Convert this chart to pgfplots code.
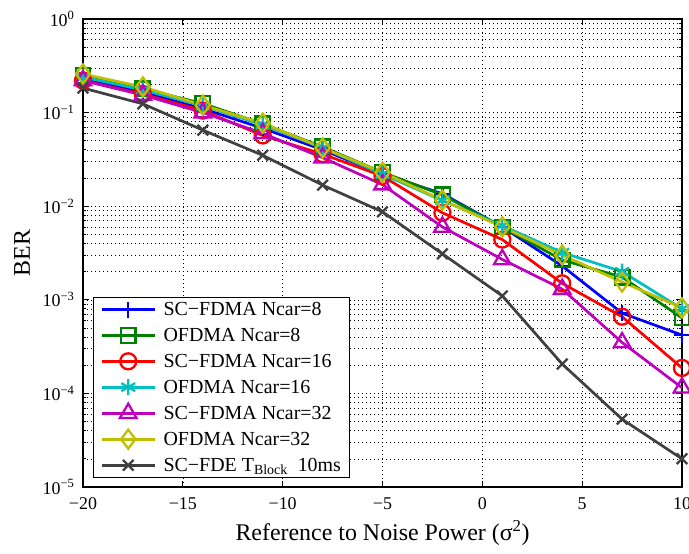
\documentclass[border=0pt]{standalone}
\usepackage{fontspec}
\setmainfont{Liberation Serif}
\usepackage{pgfplots}
\pgfplotsset{compat=1.18}
\definecolor{mblue}{rgb}{0,0,1}
\definecolor{mgreen}{rgb}{0,0.5,0}
\definecolor{mred}{rgb}{1,0,0}
\definecolor{mcyan}{rgb}{0,0.75,0.75}
\definecolor{mmag}{rgb}{0.75,0,0.75}
\definecolor{myel}{rgb}{0.75,0.75,0}
\definecolor{mgray}{rgb}{0.25,0.25,0.25}
\begin{document}
\begin{tikzpicture}
\begin{axis}[
  scale only axis, width=599bp, height=468bp,
  ymode=log, xmin=-20, xmax=10, ymin=1e-5, ymax=1,
  xtick={-20,-15,-10,-5,0,5,10},
  xticklabels={−20,−15,−10,−5,0,5,10},
  ytick={1e-5,1e-4,1e-3,1e-2,1e-1,1},
  yticklabels={10\textsuperscript{−5},10\textsuperscript{−4},10\textsuperscript{−3},10\textsuperscript{−2},10\textsuperscript{−1},10\textsuperscript{0}},
  minor ytick={2e-5,3e-5,4e-5,5e-5,6e-5,7e-5,8e-5,9e-5,
               2e-4,3e-4,4e-4,5e-4,6e-4,7e-4,8e-4,9e-4,
               2e-3,3e-3,4e-3,5e-3,6e-3,7e-3,8e-3,9e-3,
               2e-2,3e-2,4e-2,5e-2,6e-2,7e-2,8e-2,9e-2,
               0.2,0.3,0.4,0.5,0.6,0.7,0.8,0.9},
  xtick pos=both, ytick pos=both, tick align=inside,
  major tick length=6bp, minor tick length=3.5bp,
  tick style={black, line width=0.8pt},
  tick label style={font=\fontsize{18}{20}\selectfont},
  xticklabel style={yshift=-7bp},
  yticklabel style={xshift=-5bp},
  label style={font=\fontsize{24}{28}\selectfont},
  xlabel={Reference to Noise Power (σ\textsuperscript{2})},
  ylabel={BER},
  xlabel style={yshift=-4bp},
  ylabel style={yshift=6bp},
  grid=both,
  major grid style={black, line width=0.6pt, dash pattern=on 0.8pt off 3.2pt},
  minor grid style={black, line width=0.6pt, dash pattern=on 0.8pt off 3.2pt},
  axis line style={line width=1.3pt},
  every axis plot/.append style={line width=2.7bp, mark size=7.5bp, mark options={solid, fill=none, line width=2.3bp}},
  legend cell align=left,
  legend style={at={(0.0167,0.019)}, anchor=south west, draw=black, line width=1.1pt,
    font=\fontsize{20}{24}\selectfont, inner xsep=7pt, inner ysep=3pt, row sep=7.2pt},
  legend image code/.code={\draw[mark repeat=2,mark phase=2,#1,line width=2.7bp, mark options={solid, fill=none, line width=2.3bp}] plot coordinates {(0cm,0cm) (0.93cm,0cm) (1.86cm,0cm)}; \path (2.06cm,0cm);},
]
\addplot[color=mblue, mark=+, mark size=8bp] coordinates {(-20,0.23) (-17,0.165) (-14,0.11) (-11,0.068) (-8,0.040) (-5,0.022) (-2,0.0136) (1,0.0060) (4,0.0023) (7,0.00072) (10,0.00042)};
\addlegendentry{SC−FDMA Ncar=8}
\addplot[color=mgreen, mark=square, mark size=7.3bp] coordinates {(-20,0.25) (-17,0.18) (-14,0.125) (-11,0.076) (-8,0.043) (-5,0.023) (-2,0.0132) (1,0.0060) (4,0.00266) (7,0.00175) (10,0.00064)};
\addlegendentry{OFDMA Ncar=8}
\addplot[color=mred, mark=o, mark size=8bp] coordinates {(-20,0.22) (-17,0.158) (-14,0.105) (-11,0.057) (-8,0.036) (-5,0.021) (-2,0.0085) (1,0.0044) (4,0.0015) (7,0.00066) (10,0.000187)};
\addlegendentry{SC−FDMA Ncar=16}
\addplot[color=mcyan, mark=asterisk, mark size=8bp] coordinates {(-20,0.24) (-17,0.175) (-14,0.118) (-11,0.074) (-8,0.042) (-5,0.022) (-2,0.0115) (1,0.0062) (4,0.0032) (7,0.0020) (10,0.00080)};
\addlegendentry{OFDMA Ncar=16}
\addplot[color=mmag, mark=triangle, mark size=9.5bp] coordinates {(-20,0.22) (-17,0.154) (-14,0.10) (-11,0.060) (-8,0.033) (-5,0.017) (-2,0.0060) (1,0.0027) (4,0.0013) (7,0.00035) (10,0.000115)};
\addlegendentry{SC−FDMA Ncar=32}
\addplot[color=myel, mark=diamond, mark size=9.5bp] coordinates {(-20,0.258) (-17,0.188) (-14,0.12) (-11,0.077) (-8,0.042) (-5,0.023) (-2,0.0116) (1,0.0060) (4,0.0030) (7,0.00155) (10,0.00082)};
\addlegendentry{OFDMA Ncar=32}
\addplot[color=mgray, mark=x, mark size=7.5bp] coordinates {(-20,0.183) (-17,0.124) (-14,0.065) (-11,0.035) (-8,0.0168) (-5,0.0087) (-2,0.0031) (1,0.0011) (4,0.000206) (7,0.000053) (10,0.000020)};
\addlegendentry{SC−FDE T\textsubscript{Block}\enspace 10ms}
\end{axis}
\pgfresetboundingbox
\path[use as bounding box] ([xshift=-83bp,yshift=-67bp]current axis.south west) rectangle ([xshift=7bp,yshift=19bp]current axis.north east);
\end{tikzpicture}
\end{document}
